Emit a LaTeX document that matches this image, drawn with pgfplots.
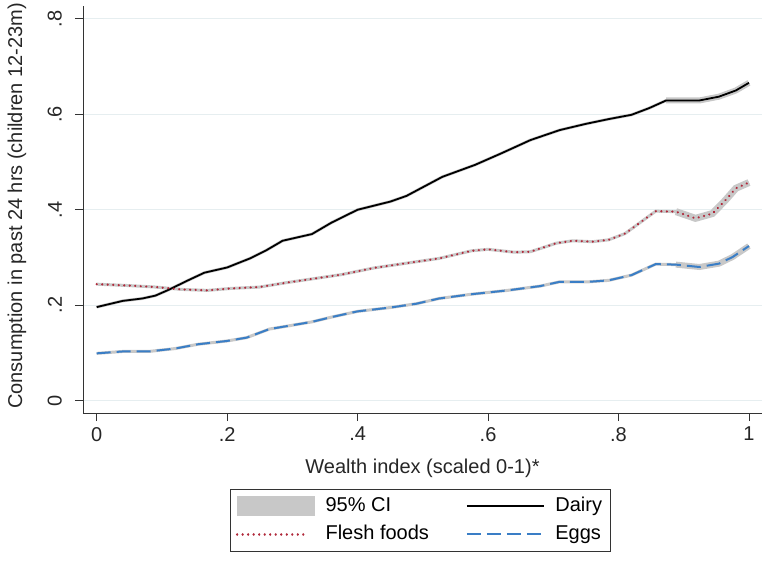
\documentclass[border=0pt]{standalone}
\usepackage{pgfplots}
\pgfplotsset{compat=1.18}
\usepackage{fontspec}
\setmainfont{Liberation Sans}
\definecolor{fleshred}{HTML}{B0283A}
\definecolor{eggblue}{HTML}{3A7EC6}
\definecolor{cigray}{HTML}{C8C8C8}
\definecolor{gridc}{HTML}{E6EEF0}
\pgfplotstableread{
x y
0.00 0.196
0.04 0.209
0.07 0.214
0.09 0.220
0.11 0.232
0.14 0.252
0.165 0.268
0.20 0.279
0.235 0.298
0.26 0.315
0.285 0.335
0.33 0.349
0.36 0.373
0.40 0.400
0.45 0.417
0.475 0.429
0.53 0.469
0.58 0.494
0.62 0.518
0.665 0.546
0.71 0.567
0.75 0.580
0.785 0.590
0.82 0.599
0.847 0.613
0.873 0.629
0.924 0.629
0.954 0.637
0.98 0.650
1.00 0.666
}\dairy
\pgfplotstableread{
x y
0.00 0.244
0.05 0.241
0.09 0.238
0.13 0.233
0.17 0.231
0.205 0.235
0.25 0.238
0.29 0.247
0.33 0.255
0.375 0.264
0.425 0.278
0.475 0.288
0.525 0.298
0.575 0.314
0.60 0.317
0.64 0.311
0.665 0.312
0.705 0.330
0.73 0.335
0.76 0.333
0.785 0.337
0.81 0.350
0.837 0.377
0.857 0.397
0.888 0.396
0.918 0.382
0.944 0.392
0.964 0.420
0.98 0.445
1.00 0.457
}\flesh
\pgfplotstableread{
x y
0.00 0.099
0.04 0.103
0.08 0.103
0.12 0.109
0.155 0.118
0.20 0.125
0.23 0.132
0.265 0.150
0.30 0.158
0.33 0.165
0.36 0.175
0.40 0.187
0.45 0.195
0.49 0.203
0.525 0.214
0.575 0.223
0.63 0.231
0.68 0.240
0.71 0.249
0.755 0.249
0.785 0.252
0.82 0.263
0.857 0.286
0.888 0.285
0.924 0.280
0.954 0.287
0.975 0.301
1.00 0.324
}\eggs
\begin{document}
\begin{tikzpicture}
\useasboundingbox (-83pt,-147pt) rectangle (683pt,413pt);
\begin{axis}[
  scale only axis, width=679pt, height=407pt,
  xmin=-0.021, xmax=1.020, ymin=-0.026, ymax=0.827,
  axis x line*=bottom, axis y line*=left,
  axis line style={-, line width=0.8pt, black!80},
  every tick/.style={black!80, line width=0.8pt},
  tick align=outside, major tick length=8pt,
  xtick={0,0.2,0.4,0.6,0.8,1}, xticklabels={0,.2,.4,.6,.8,1},
  ytick={0,0.2,0.4,0.6,0.8}, yticklabels={0,.2,.4,.6,.8},
  ymajorgrids, major grid style={gridc, line width=0.8pt},
  tick label style={font=\fontsize{20}{24}\selectfont, text=black!85},
  label style={font=\fontsize{20}{24}\selectfont, text=black!85},
  xticklabel style={anchor=north, inner sep=0pt, yshift=-6pt},
  yticklabel style={xshift=-13pt, rotate=90, anchor=south, inner sep=0pt},
  xlabel={Wealth index (scaled 0-1)*},
  xlabel style={at={(axis description cs:0.5,-0.135)}, anchor=center},
  ylabel={Consumption in past 24 hrs (children 12-23m)},
  ylabel style={at={(axis description cs:-0.0972,0.509)}, anchor=center},
  legend columns=2,
  legend cell align=left,
  legend style={at={(axis description cs:0.4963,-0.1867)}, anchor=north,
    draw=black!80, line width=0.8pt, font=\fontsize{20}{24}\selectfont,
    inner xsep=6pt, inner ysep=6pt,
    /tikz/every even column/.append style={column sep=35pt},
    /tikz/row sep=6pt,
    nodes={inner sep=2pt, text height=14pt, text depth=4pt}},
]
% CI bands (drawn as gray halo)
\addplot[cigray, line width=3pt, forget plot] table {\dairy};
\addplot[cigray, line width=3pt, forget plot] table {\flesh};
\addplot[cigray, line width=3pt, forget plot] table {\eggs};
\addplot[cigray, line width=6pt, forget plot] table[restrict x to domain=0.86:1] {\dairy};
\addplot[cigray, line width=7pt, forget plot] table[restrict x to domain=0.86:1] {\flesh};
\addplot[cigray, line width=6pt, forget plot] table[restrict x to domain=0.86:1] {\eggs};
% lines
\addplot[black, line width=1.8pt, forget plot] table {\dairy};
\addplot[fleshred, line width=2.4pt, dash pattern=on 0.01pt off 5.5pt, line cap=round, forget plot] table {\flesh};
\addplot[eggblue, line width=2pt, dash pattern=on 14pt off 6pt, forget plot] table {\eggs};
% legend
\addlegendimage{legend image code/.code={\fill[cigray] (0pt,-9.5pt) rectangle (77pt,9.5pt); \path (86pt,0pt);}}
\addlegendentry{95\% CI}
\addlegendimage{legend image code/.code={\draw[black, line width=1.8pt] (0pt,0pt) -- (77pt,0pt); \path (86pt,0pt);}}
\addlegendentry{Dairy}
\addlegendimage{legend image code/.code={\draw[fleshred, line width=2.4pt, dash pattern=on 0.01pt off 5.5pt, line cap=round] (0pt,0pt) -- (70pt,0pt); \path (86pt,0pt);}}
\addlegendentry{Flesh foods}
\addlegendimage{legend image code/.code={\draw[eggblue, line width=2pt, dash pattern=on 14pt off 6pt] (0pt,0pt) -- (77pt,0pt); \path (86pt,0pt);}}
\addlegendentry{Eggs}
\end{axis}
\end{tikzpicture}
\end{document}
